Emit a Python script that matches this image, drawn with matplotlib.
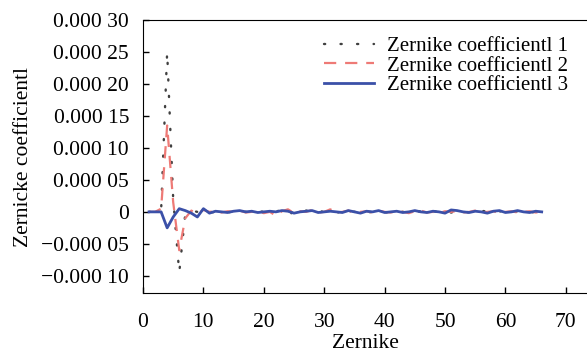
import matplotlib
matplotlib.use("Agg")
import matplotlib.pyplot as plt
import numpy as np

# Zernike term index
terms = list(range(1, 67))

# coefficient values, in units of 1e-5
coef1 = [0, 0, 0.2, 25, 2, -9.5, -0.3, 0.2, 0, 0.1, -0.1,
         0, 0.1, 0, -0.1, 0.1, 0, -0.1, 0.1, 0, -0.2,
         0.1, 0.2, -0.6, 0.1, -0.3, 0.2, 0, 0.3, -0.1, 0.2,
         0, -0.2, 0.1, 0, 0.2, -0.1, 0, 0.1, -0.1, 0,
         0.2, 0, -0.1, 0, 0.1, -0.2, 0.1, 0, 0.2, -0.1,
         0, 0.1, -0.1, 0, 0.2, 0, -0.1, 0.1, 0, -0.1,
         0.1, 0, -0.1, 0, 0]
coef2 = [0, 0, 0.5, 13.5, 1.5, -6, -1, 0.2, -0.3, 0.3, 0,
         0.1, -0.1, 0.1, 0, 0.2, -0.1, 0, 0.1, -0.2, 0,
         -0.6, 0.1, 0.4, -0.2, 0.1, 0, 0.3, -0.1, 0, 0.4,
         -0.1, 0, 0.2, -0.2, 0, 0.1, -0.1, 0.2, 0, -0.1,
         0.1, 0, -0.2, 0.1, 0.2, -0.1, 0, -0.2, 0.1, 0,
         0.1, -0.1, 0, 0.2, -0.1, 0, 0.1, -0.2, 0, 0.1,
         -0.1, 0, 0.1, -0.1, 0]
coef3 = [0, 0, 0, -2.5, -0.8, 0.5, 0.2, -0.2, -0.8, 0.5, -0.2,
         0.1, 0, -0.1, 0.1, 0.2, 0, 0.1, -0.1, 0, 0.1,
         0, 0.2, 0.1, -0.2, 0, 0.1, 0.2, -0.1, 0, 0.1,
         0, -0.1, 0.2, 0, -0.2, 0.1, 0, 0.2, -0.1, 0,
         0.1, -0.1, 0, 0.2, 0, -0.1, 0.1, 0, -0.2, 0.3,
         0.2, 0, -0.1, 0.1, 0, -0.2, 0.1, 0.2, -0.1, 0,
         0.2, 0, -0.1, 0.1, 0]

labels = ["Zernike coefficientl 1", "Zernike coefficientl 2", "Zernike coefficientl 3"]
yticks = [-0.0001, -0.00005, 0, 0.00005, 0.0001, 0.00015, 0.0002, 0.00025, 0.0003]
ytick_labels = ["\u22120.000 10", "\u22120.000 05", "0", "0.000 05", "0.000 10",
                "0.000 15", "0.000 20", "0.000 25", "0.000 30"]
xticks = [0, 10, 20, 30, 40, 50, 60, 70]

plt.rcParams["font.family"] = ["Liberation Serif", "DejaVu Serif"]
plt.rcParams["font.size"] = 15.5

fig = plt.figure(figsize=(5.87, 3.57), dpi=100)
ax = fig.add_axes([0.2436, 0.179, 0.7564, 0.765])

ax.plot(terms, np.array(coef1) * 1e-5, color="#404040", lw=1.7,
        linestyle=(0, (0.5, 6.5)), dash_capstyle="round", label=labels[0])
ax.plot(terms, np.array(coef2) * 1e-5, color="#ee7a76", lw=1.6,
        linestyle=(0, (5.5, 4)), label=labels[1])
ax.plot(terms, np.array(coef3) * 1e-5, color="#3b50a8", lw=2.0, label=labels[2])

ax.set_xlim(0, 73.5)
ax.set_ylim(-0.000127, 0.0003)
ax.set_xticks(xticks)
ax.set_yticks(yticks)
ax.set_yticklabels(ytick_labels)
ax.tick_params(direction="in", length=4, width=1)
ax.tick_params(axis="y", pad=10)
ax.tick_params(axis="x", pad=14)

ax.spines["right"].set_visible(False)

ax.set_xlabel("Zernike", labelpad=2)
ax.set_ylabel("Zernicke coefficientl", labelpad=6)

ax.legend(loc="upper right", frameon=False, fontsize=15, handlelength=2.4,
          labelspacing=0.0, handletextpad=0.6, borderaxespad=0.2,
          bbox_to_anchor=(0.985, 0.985))

fig.savefig("out.png", dpi=100)
